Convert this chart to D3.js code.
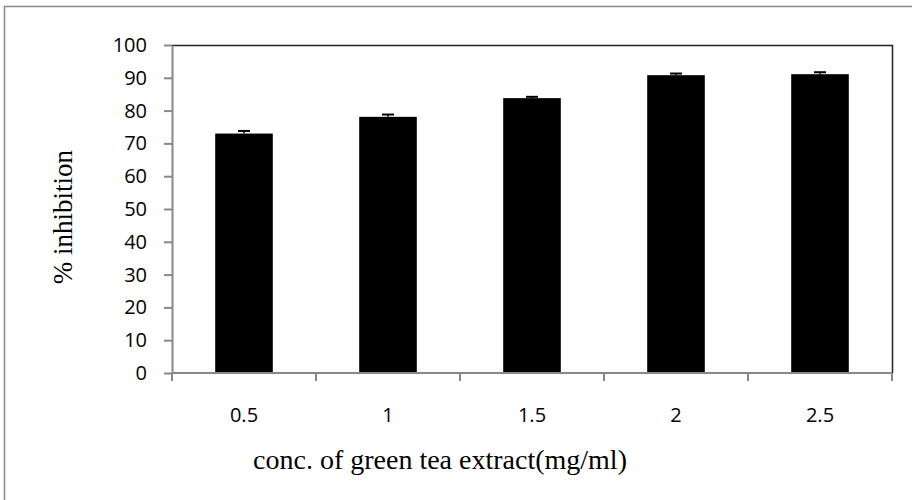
<!DOCTYPE html>
<html><head><meta charset="utf-8">
<script src="https://cdn.jsdelivr.net/npm/d3@7/dist/d3.min.js"></script>
<style>body{margin:0;background:#fff}</style>
</head><body>
<script>
const categories = ["0.5", "1", "1.5", "2", "2.5"];
const values = [73.0, 78.1, 83.8, 90.8, 91.1];
const errors = [0.8, 0.7, 0.4, 0.5, 0.6];
const yTicks = [0,10,20,30,40,50,60,70,80,90,100];

const W = 912, H = 500;
const m = {left:172, top:45, right:892, bottom:373};
const svg = d3.select("body").append("svg").attr("width",W).attr("height",H);

svg.append("rect").attr("x",4.5).attr("y",6.5).attr("width",W).attr("height",H)
  .attr("fill","none").attr("stroke","#888").attr("stroke-width",1.5);

const x = d3.scaleBand().domain(categories).range([m.left,m.right]).paddingInner(0.6).paddingOuter(0.3);
const xb = d3.scaleBand().domain(categories).range([m.left,m.right]);
const y = d3.scaleLinear().domain([0,100]).range([m.bottom,m.top]);

// plot frame top/right
svg.append("path").attr("d",`M${m.left},${m.top+0.5}H${m.right+0.5}V${m.bottom}`)
  .attr("fill","none").attr("stroke","#222").attr("stroke-width",1.5);

// bars
svg.selectAll("rect.bar").data(values).join("rect").attr("class","bar")
  .attr("x",(d,i)=>x(categories[i])).attr("width",x.bandwidth())
  .attr("y",d=>y(d)).attr("height",d=>y(0)-y(d)).attr("fill","#000");

// error bars
const eg = svg.append("g");
values.forEach((v,i)=>{
  const cx = x(categories[i]) + x.bandwidth()/2;
  eg.append("line").attr("x1",cx).attr("x2",cx).attr("y1",y(v)).attr("y2",y(v+errors[i])).attr("stroke","#000").attr("stroke-width",1.5);
  eg.append("line").attr("x1",cx-6).attr("x2",cx+6).attr("y1",y(v+errors[i])).attr("y2",y(v+errors[i])).attr("stroke","#000").attr("stroke-width",2);
});

// y axis
const ya = svg.append("g").attr("transform",`translate(${m.left},0)`)
  .call(d3.axisLeft(y).tickValues(yTicks).tickSize(8).tickSizeOuter(0));
ya.select(".domain").attr("stroke","#888").attr("stroke-width",2);
ya.selectAll(".tick line").attr("stroke","#888").attr("stroke-width",2);
ya.selectAll("text").attr("font-family","'Open Sans', sans-serif").attr("font-size",20).attr("fill","#000").attr("x",-25);

// x axis
const xa = svg.append("g").attr("transform",`translate(0,${m.bottom})`);
xa.append("line").attr("x1",m.left).attr("x2",m.right).attr("stroke","#888").attr("stroke-width",2);
const bounds = categories.map(c=>xb(c)).concat([m.right]);
xa.selectAll("line.t").data(bounds).join("line").attr("class","t")
  .attr("x1",d=>d).attr("x2",d=>d).attr("y1",0).attr("y2",8).attr("stroke","#888").attr("stroke-width",2);
xa.selectAll("text").data(categories).join("text")
  .attr("x",d=>xb(d)+xb.bandwidth()/2).attr("y",49)
  .attr("text-anchor","middle").attr("font-family","'Open Sans', sans-serif").attr("font-size",20).text(d=>d);

// titles
svg.append("text").attr("x",440).attr("y",469).attr("text-anchor","middle")
  .attr("font-family","'Liberation Serif', 'Times New Roman', serif").attr("font-size",28)
  .text("conc. of green tea extract(mg/ml)");
svg.append("text").attr("transform","translate(72,217) rotate(-90)").attr("text-anchor","middle")
  .attr("font-family","'Liberation Serif', 'Times New Roman', serif").attr("font-size",27)
  .text("% inhibition");
</script>
</body></html>
